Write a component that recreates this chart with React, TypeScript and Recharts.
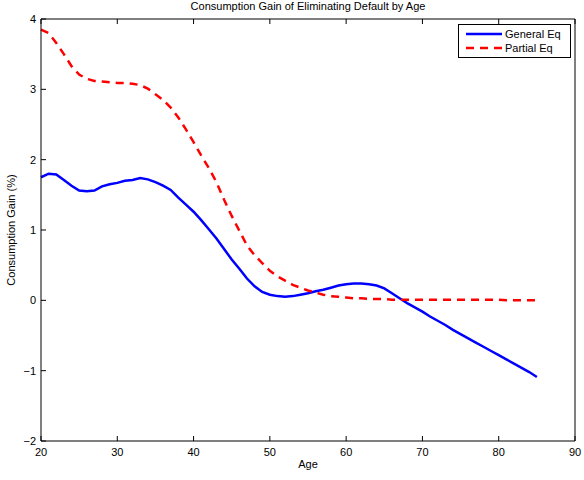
import { Label, Legend, Line, LineChart, XAxis, YAxis } from 'recharts'

const ages = [
  20, 21, 22, 23, 24, 25, 26, 27, 28, 29, 30, 31, 32, 33, 34, 35, 36, 37, 38, 39, 40, 41,
  42, 43, 44, 45, 46, 47, 48, 49, 50, 51, 52, 53, 54, 55, 56, 57, 58, 59, 60, 61, 62, 63,
  64, 65, 66, 67, 68, 69, 70, 71, 72, 73, 74, 75, 76, 77, 78, 79, 80, 81, 82, 83, 84, 85,
]

// consumption gain (%) in general equilibrium
const generalEq = [
  1.75, 1.8, 1.79, 1.71, 1.63, 1.56, 1.55, 1.56, 1.62, 1.65, 1.67, 1.7, 1.71, 1.74, 1.72,
  1.68, 1.63, 1.57, 1.46, 1.36, 1.26, 1.14, 1.01, 0.88, 0.73, 0.58, 0.45, 0.31, 0.2, 0.12,
  0.08, 0.06, 0.05, 0.06, 0.08, 0.1, 0.13, 0.15, 0.18, 0.21, 0.23, 0.24, 0.24, 0.23, 0.21,
  0.17, 0.1, 0.03, -0.04, -0.1, -0.16, -0.23, -0.29, -0.35, -0.42, -0.48, -0.54, -0.6,
  -0.66, -0.72, -0.78, -0.84, -0.9, -0.96, -1.02, -1.09,
]

// consumption gain (%) in partial equilibrium
const partialEq = [
  3.85, 3.8, 3.66, 3.5, 3.33, 3.21, 3.15, 3.12, 3.11, 3.1, 3.09, 3.09, 3.08, 3.06, 3.01,
  2.93, 2.85, 2.74, 2.6, 2.43, 2.25, 2.06, 1.88, 1.68, 1.43, 1.2, 0.99, 0.78, 0.64, 0.53,
  0.42, 0.34, 0.28, 0.22, 0.18, 0.14, 0.11, 0.08, 0.06, 0.05, 0.04, 0.03, 0.03, 0.02, 0.02,
  0.02, 0.01, 0.01, 0.01, 0.01, 0.01, 0.01, 0.01, 0.01, 0.01, 0.01, 0.01, 0.01, 0.01, 0.01,
  0.01, 0.0, 0.0, 0.0, 0.0, 0.0,
]

const ageTicks = [20, 30, 40, 50, 60, 70, 80, 90]
const gainTicks = [-2, -1, 0, 1, 2, 3, 4]

const data = ages.map((age, i) => ({ age, general: generalEq[i], partial: partialEq[i] }))

const font = "'Liberation Sans', Arial, Helvetica, sans-serif"
const tickStyle = { fill: '#000', fontSize: 11, fontFamily: font }
const withMinus = (v: number) => String(v).replace('-', '\u2212')
const blank = () => ''

function LegendBox() {
  const row = (top: number, color: string, dash: string | undefined, text: string) => (
    <>
      <svg width={44} height={14} style={{ position: 'absolute', left: 0, top }}>
        <line x1={7} x2={43} y1={7} y2={7} stroke={color} strokeWidth={2.5} strokeDasharray={dash} />
      </svg>
      <span style={{ position: 'absolute', left: 46, top, lineHeight: '14px', whiteSpace: 'nowrap' }}>{text}</span>
    </>
  )
  return (
    <div
      style={{
        position: 'relative',
        width: 111,
        height: 32,
        border: '1px solid #000',
        background: '#fff',
        fontFamily: font,
        fontSize: 11,
        color: '#000',
      }}
    >
      {row(2, '#0000ff', undefined, 'General Eq')}
      {row(16, '#ff0000', '8 6', 'Partial Eq')}
    </div>
  )
}

export default function App() {
  return (
    <div style={{ position: 'absolute', left: 0, top: 0, width: 584, height: 480, background: '#fff' }}>
      <LineChart width={584} height={480} data={data} margin={{ top: 18, right: 8, left: 0, bottom: 0 }}>
        <XAxis
          dataKey='age'
          type='number'
          domain={[20, 90]}
          ticks={ageTicks}
          height={39}
          tickSize={-5}
          tickMargin={12.5}
          tick={tickStyle}
          stroke='#000'
        >
          <Label
            value='Age'
            position='insideBottom'
            offset={12}
            style={{ fill: '#000', fontSize: 11, fontFamily: font }}
          />
        </XAxis>
        {/* mirrored top axis closes the box and carries the title */}
        <XAxis
          xAxisId='top'
          orientation='top'
          dataKey='age'
          type='number'
          domain={[20, 90]}
          ticks={ageTicks}
          height={1}
          tickSize={-5}
          tickFormatter={blank}
          stroke='#000'
        >
          <Label
            content={() => (
              <text x={308} y={10} textAnchor='middle' fill='#000' fontSize={11} fontFamily={font}>
                Consumption Gain of Eliminating Default by Age
              </text>
            )}
          />
        </XAxis>
        <YAxis
          type='number'
          domain={[-2, 4]}
          ticks={gainTicks}
          width={41}
          tickSize={-5}
          tickMargin={10}
          tick={tickStyle}
          tickFormatter={withMinus}
          stroke='#000'
        >
          <Label
            content={() => (
              <text
                x={15}
                y={230}
                textAnchor='middle'
                transform='rotate(-90 15 230)'
                fill='#000'
                fontSize={11}
                fontFamily={font}
              >
                Consumption Gain (%)
              </text>
            )}
          />
        </YAxis>
        <YAxis
          yAxisId='right'
          orientation='right'
          type='number'
          domain={[-2, 4]}
          ticks={gainTicks}
          width={1}
          tickSize={-5}
          tickFormatter={blank}
          stroke='#000'
        />
        <Legend
          layout='vertical'
          align='center'
          verticalAlign='middle'
          content={() => <LegendBox />}
          wrapperStyle={{ left: 458, top: 24, width: 113, height: 34 }}
        />
        <Line
          dataKey='general'
          name='General Eq'
          type='linear'
          stroke='#0000ff'
          strokeWidth={2.5}
          dot={false}
          isAnimationActive={false}
        />
        <Line
          dataKey='partial'
          name='Partial Eq'
          type='linear'
          stroke='#ff0000'
          strokeWidth={2.5}
          strokeDasharray='8 6'
          dot={false}
          isAnimationActive={false}
        />
      </LineChart>
    </div>
  )
}
